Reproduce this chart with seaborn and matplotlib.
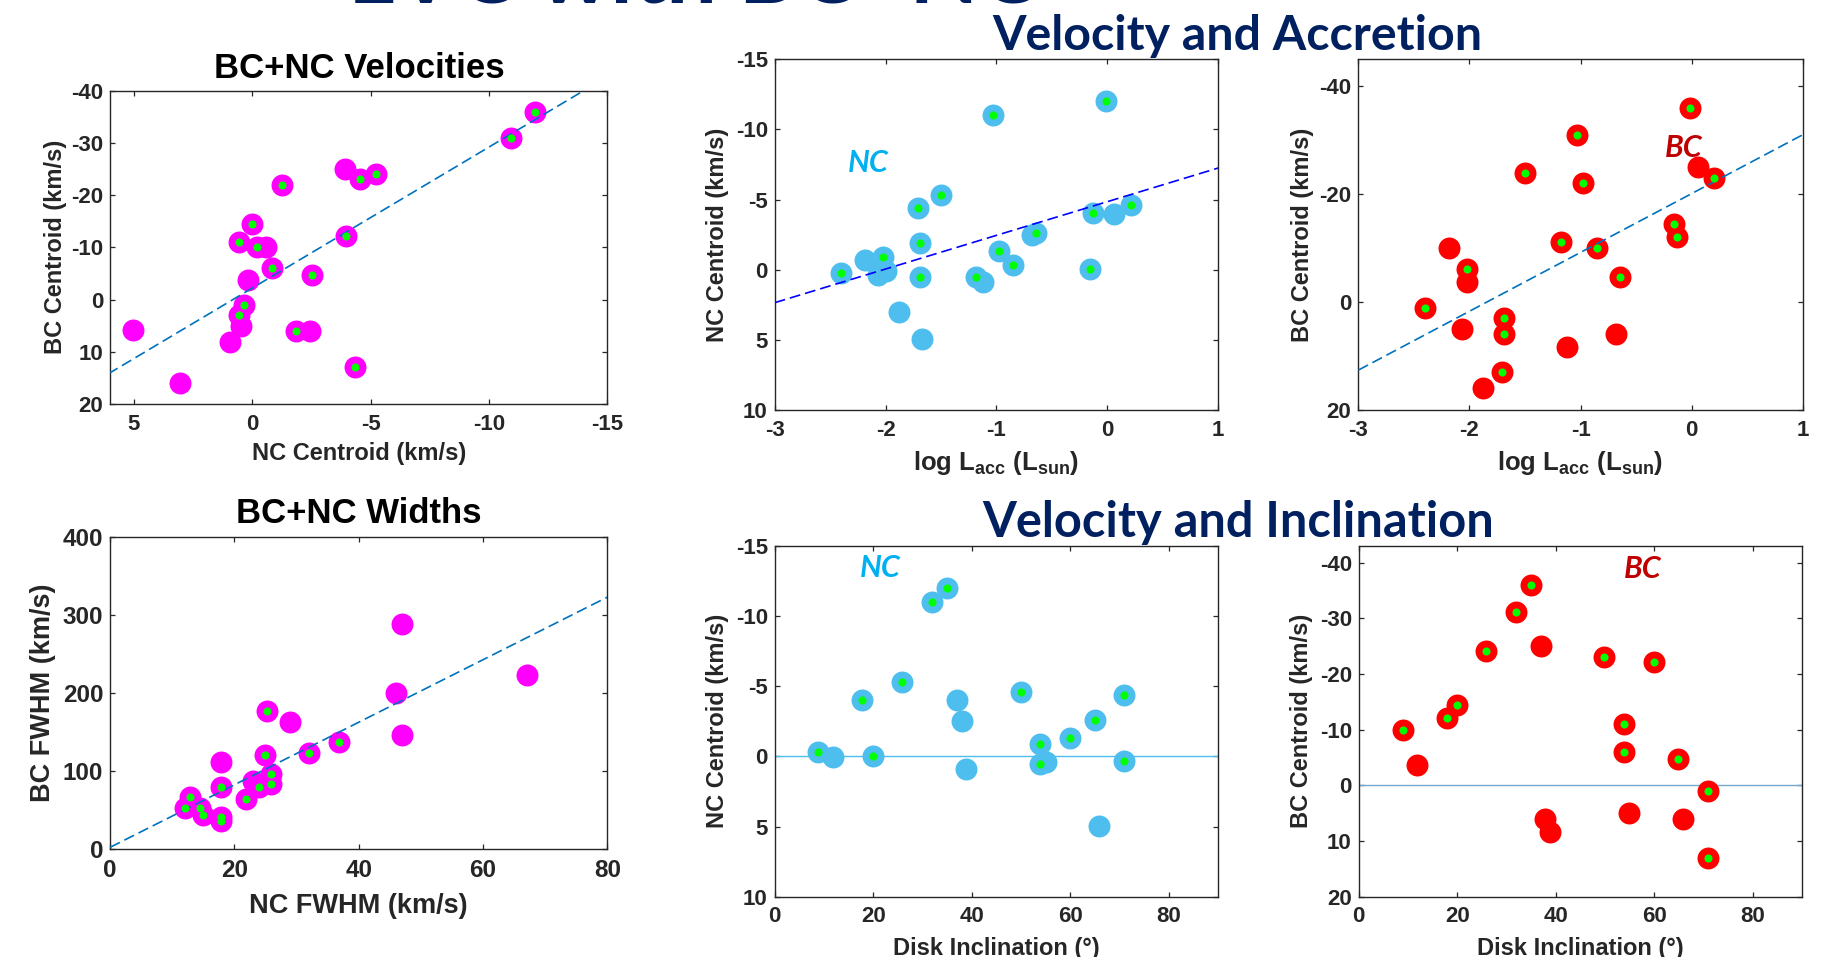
import numpy as np
import pandas as pd
import matplotlib
matplotlib.use("Agg")
import matplotlib.pyplot as plt
import seaborn as sns

# ---------------- data ----------------
# Panel 1: BC+NC velocities
vel_nc = [-11.95, -10.95, -3.93, -4.55, -5.24, -1.26, 0.02, 0.57, -0.22, -0.6, -3.95, -0.84,
          -2.53, 0.17, 0.36, 0.55, 0.47, 0.95, 5.05, 3.07, -1.84, -2.45, -4.34]
vel_bc = [-36.0, -30.95, -25.0, -23.0, -24.0, -21.95, -14.4, -11.0, -10.0, -10.0, -12.1, -6.0,
          -4.66, -3.77, 1.0, 2.9, 5.0, 8.2, 5.9, 15.9, 6.0, 6.0, 13.0]
vel_dot = [1, 1, 0, 1, 1, 1, 1, 1, 1, 0, 1, 1, 1, 0, 1, 1, 0, 0, 0, 0, 1, 0, 1]
vel_fit = (2.7, -2.2)          # slope, intercept

# Panel 4: BC+NC widths
wid_nc = [47.0, 67.0, 46.0, 47.0, 25.3, 29.0, 36.9, 32.0, 24.9, 17.9, 25.95, 25.95, 23.9, 23.0,
          17.9, 21.9, 12.9, 12.0, 14.4, 14.9, 17.9, 17.9]
wid_bc = [288.7, 223.5, 200.4, 145.8, 177.0, 162.5, 136.9, 123.2, 120.3, 111.3, 96.0, 84.0, 80.2, 87.0,
          79.7, 64.8, 67.0, 53.3, 53.3, 44.0, 41.8, 35.8]
wid_dot = [0, 0, 0, 0, 1, 0, 1, 1, 1, 0, 1, 1, 1, 0, 1, 1, 1, 1, 1, 1, 1, 1]
wid_fit = (4.0, 2.6)

# Panel 2: NC centroid vs log Lacc
lacc_nc = [-0.01, -1.03, -1.50, -1.71, -0.13, 0.06, 0.21, -0.64, -0.68, -1.69, -0.98, -0.85,
           -2.02, -2.19, -2.07, -2.00, -2.40, -1.69, -1.18, -1.12, -0.16, -1.88, -1.67]
nc_lacc = [-12.03, -11.03, -5.32, -4.42, -4.02, -4.0, -4.6, -2.64, -2.5, -1.93, -1.35, -0.33,
           -0.93, -0.7, 0.4, 0.1, 0.26, 0.5, 0.5, 0.86, -0.07, 3.0, 4.97]
nc_lacc_dot = [1, 1, 1, 1, 1, 0, 1, 1, 0, 1, 1, 1, 1, 0, 0, 0, 1, 1, 1, 0, 1, 0, 0]
nc_lacc_fit = (-2.4, -4.85)

# Panel 3: BC centroid vs log Lacc
lacc_bc = [-0.01, -1.03, -1.50, -0.98, 0.06, 0.20, -0.16, -0.13, -1.18, -0.85, -2.18, -2.02,
           -2.02, -0.64, -2.40, -2.07, -1.69, -1.69, -0.68, -1.12, -1.71, -1.88]
bc_lacc = [-36.05, -31.05, -24.0, -22.0, -25.1, -23.0, -14.4, -12.0, -11.05, -10.0, -9.94, -6.05,
           -3.7, -4.7, 1.05, 4.94, 2.96, 5.99, 5.99, 8.27, 12.96, 15.9]
bc_lacc_dot = [1, 1, 1, 1, 0, 1, 1, 1, 1, 1, 0, 1, 0, 1, 1, 0, 1, 1, 0, 0, 1, 0]
bc_lacc_fit = (-10.9, -20.1)

# Panel 5: NC centroid vs inclination
inc_nc = [34.96, 31.9, 25.9, 17.8, 36.9, 38.0, 49.9, 70.9, 65.0, 59.9, 53.9, 8.85, 11.85,
          19.95, 53.9, 55.1, 70.9, 38.9, 65.9]
nc_inc = [-11.98, -11.0, -5.28, -3.99, -4.02, -2.5, -4.59, -4.4, -2.59, -1.28, -0.88, -0.29, 0.07,
          -0.02, 0.52, 0.38, 0.31, 0.9, 4.99]
nc_inc_dot = [1, 1, 1, 1, 0, 0, 1, 1, 1, 1, 1, 1, 0, 1, 1, 0, 1, 0, 0]

# Panel 6: BC centroid vs inclination
inc_bc = [34.9, 31.9, 37.0, 25.9, 49.9, 59.9, 19.9, 17.85, 8.9, 11.9, 53.9, 53.9, 64.9, 70.9,
          37.8, 38.9, 54.8, 65.8, 70.9]
bc_inc = [-36.05, -31.07, -25.08, -24.05, -23.04, -22.08, -14.46, -12.06, -10.02, -3.66, -11.04,
          -6.0, -4.74, 1.02, 6.0, 8.34, 5.04, 6.0, 13.02]
bc_inc_dot = [1, 1, 0, 1, 1, 1, 1, 1, 1, 0, 1, 1, 1, 1, 0, 0, 0, 0, 1]

# ---------------- style ----------------
sns.set_style("ticks")
plt.rcParams["font.family"] = ["Liberation Sans", "DejaVu Sans"]
plt.rcParams["font.weight"] = "bold"
plt.rcParams["axes.labelweight"] = "bold"
plt.rcParams["axes.unicode_minus"] = False
plt.rcParams["mathtext.fontset"] = "custom"
plt.rcParams["mathtext.rm"] = "Liberation Sans:bold"
plt.rcParams["mathtext.it"] = "Liberation Sans:bold"
plt.rcParams["mathtext.bf"] = "Liberation Sans:bold"

MAGENTA = "#FF00FF"
LBLUE = "#4DBEEE"
RED = "#FF0000"
GREEN = "#00FF00"
NAVY = "#002060"
GRAY = "#262626"
BIG = 250
SMALL = 34
DASH = (0, (6.5, 3.0))

W, H = 1842, 957
fig = plt.figure(figsize=(W / 100, H / 100), dpi=100)
fig.patch.set_facecolor("white")


def add_axes(l, t, r, b):
    return fig.add_axes([l / W, 1 - b / H, (r - l) / W, (b - t) / H])


def panel(ax, x, y, dot, color, xlim, ylim, xticks, yticks, xlabel, ylabel, ylab_x, xlab_y,
          label_fs=17, tick_fs=16):
    df = pd.DataFrame({"x": x, "y": y, "dot": dot})
    sns.scatterplot(data=df, x="x", y="y", ax=ax, color=color, s=BIG, linewidth=0,
                    zorder=3, legend=False)
    sns.scatterplot(data=df[df["dot"] == 1], x="x", y="y", ax=ax, color=GREEN, s=SMALL,
                    linewidth=0, zorder=6, legend=False)
    ax.set_xlim(xlim)
    ax.set_ylim(ylim)
    ax.set_xticks(xticks)
    ax.set_yticks(yticks)
    ax.tick_params(direction="in", top=True, right=True, length=3.6, width=0.9,
                   color=GRAY, labelcolor=GRAY, labelsize=tick_fs)
    ax.tick_params(axis="x", pad=7)
    ax.tick_params(axis="y", pad=5)
    for sp in ax.spines.values():
        sp.set_color(GRAY)
        sp.set_linewidth(1.0)
    ax.set_xlabel(xlabel, fontsize=label_fs, color=GRAY, va="center")
    ax.set_ylabel(ylabel, fontsize=label_fs, color=GRAY, va="center")
    ax.yaxis.set_label_coords(ylab_x, 0.5)
    ax.xaxis.set_label_coords(0.5, xlab_y)
    ax.set_facecolor("white")


def fitline(ax, fit, xr, color):
    xs = np.array(xr, dtype=float)
    sns.lineplot(x=xs, y=fit[0] * xs + fit[1], ax=ax, color=color, linewidth=1.2,
                 linestyle=DASH, zorder=4, legend=False)


lacc_label = r"log L$_{\mathrm{acc}}$ (L$_{\mathrm{sun}}$)"

# Panel 1
ax1 = add_axes(110.2, 90.7, 607.3, 404.0)
panel(ax1, vel_nc, vel_bc, vel_dot, MAGENTA, (6, -15), (20, -40), [5, 0, -5, -10, -15],
      [-40, -30, -20, -10, 0, 10, 20], "NC Centroid (km/s)", "BC Centroid (km/s)", -0.111, -0.157)
fitline(ax1, vel_fit, [6, -15], "#0072BD")

# Panel 4
ax4 = add_axes(110.2, 536.7, 607.3, 849.3)
panel(ax4, wid_nc, wid_bc, wid_dot, MAGENTA, (0, 80), (0, 400), [0, 20, 40, 60, 80],
      [0, 100, 200, 300, 400], "NC FWHM (km/s)", "BC FWHM (km/s)", -0.135, -0.180,
      label_fs=19.5, tick_fs=17.5)
fitline(ax4, wid_fit, [0, 80], "#0072BD")

# Panel 2
ax2 = add_axes(774.7, 59.3, 1218.2, 410.0)
panel(ax2, lacc_nc, nc_lacc, nc_lacc_dot, LBLUE, (-3, 1), (10, -15), [-3, -2, -1, 0, 1],
      [-15, -10, -5, 0, 5, 10], lacc_label, "NC Centroid (km/s)", -0.130, -0.150)
ax2.xaxis.label.set_fontsize(18.5)
fitline(ax2, nc_lacc_fit, [-3, 1], "#0000FF")
ax2.text(-2.16, -7.6, "NC", color="#00B0F0", fontsize=22, fontfamily="Lato",
         fontweight="bold", fontstyle="italic", ha="center", va="center", zorder=7)

# Panel 3
ax3 = add_axes(1358.4, 59.3, 1802.6, 410.0)
panel(ax3, lacc_bc, bc_lacc, bc_lacc_dot, RED, (-3, 1), (20, -45), [-3, -2, -1, 0, 1],
      [-40, -20, 0, 20], lacc_label, "BC Centroid (km/s)", -0.125, -0.150)
ax3.xaxis.label.set_fontsize(18.5)
fitline(ax3, bc_lacc_fit, [-3, 1], "#0072BD")
ax3.text(-0.07, -28.5, "BC", color="#C00000", fontsize=22, fontfamily="Lato",
         fontweight="bold", fontstyle="italic", ha="center", va="center", zorder=7)

# Panel 5
ax5 = add_axes(774.7, 546.0, 1218.2, 896.7)
ax5.axhline(0, color="#4DBEEE", linewidth=1.0, zorder=1)
panel(ax5, inc_nc, nc_inc, nc_inc_dot, LBLUE, (0, 90), (10, -15), [0, 20, 40, 60, 80],
      [-15, -10, -5, 0, 5, 10], "Disk Inclination (°)", "NC Centroid (km/s)", -0.130, -0.148)
ax5.text(21.4, -13.4, "NC", color="#00B0F0", fontsize=22, fontfamily="Lato",
         fontweight="bold", fontstyle="italic", ha="center", va="center", zorder=7)

# Panel 6
ax6 = add_axes(1358.7, 546.0, 1801.9, 896.7)
ax6.axhline(0, color="#74A9CF", linewidth=1.0, zorder=1)
panel(ax6, inc_bc, bc_inc, bc_inc_dot, RED, (0, 90), (20, -43), [0, 20, 40, 60, 80],
      [-40, -30, -20, -10, 0, 10, 20], "Disk Inclination (°)", "BC Centroid (km/s)", -0.129, -0.148)
ax6.text(57.7, -38.8, "BC", color="#C00000", fontsize=22, fontfamily="Lato",
         fontweight="bold", fontstyle="italic", ha="center", va="center", zorder=7)

# ---------------- titles ----------------
fig.text(359 / W, 1 - 78.3 / H, "BC+NC Velocities", ha="center", va="baseline",
         fontsize=25, fontweight="bold", color="black")
fig.text(359 / W, 1 - 523.3 / H, "BC+NC Widths", ha="center", va="baseline",
         fontsize=25, fontweight="bold", color="black")

renderer = fig.canvas.get_renderer()


def fit_width(t, target):
    w = t.get_window_extent(renderer).width
    t.set_fontsize(t.get_fontsize() * target / w)


t_top = fig.text(348 / W, 1 - 2.3 / H, "LVC with BC+NC", ha="left", va="baseline",
                 fontsize=70, fontfamily="Lato", fontweight="bold", color=NAVY, zorder=10)
fit_width(t_top, 690)
t_acc = fig.text(1237.6 / W, 1 - 50 / H, "Velocity and Accretion", ha="center", va="baseline",
                 fontsize=32, fontfamily="Lato", fontweight="bold", color=NAVY, zorder=10)
fit_width(t_acc, 490)
t_inc = fig.text(1237.7 / W, 1 - 536.7 / H, "Velocity and Inclination", ha="center",
                 va="baseline", fontsize=32, fontfamily="Lato", fontweight="bold",
                 color=NAVY, zorder=10)
fit_width(t_inc, 512)

fig.savefig("out.png", dpi=100, facecolor="white")
